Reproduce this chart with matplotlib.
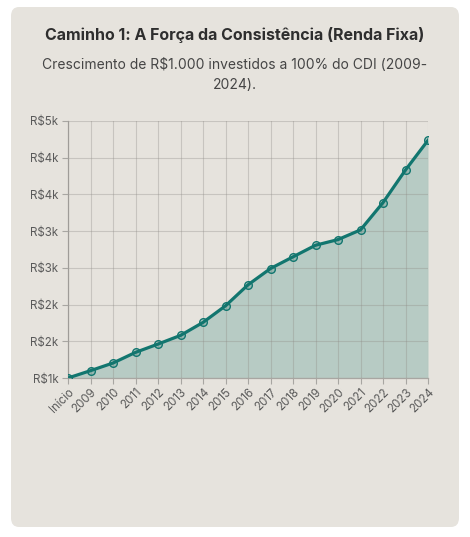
import matplotlib
matplotlib.use("Agg")
import matplotlib.pyplot as plt
from matplotlib.patches import FancyBboxPatch
from matplotlib.ticker import FuncFormatter, MultipleLocator

plt.rcParams['font.family'] = ['Inter', 'DejaVu Sans']

categories = ["Início", "2009", "2010", "2011", "2012", "2013", "2014", "2015", "2016",
              "2017", "2018", "2019", "2020", "2021", "2022", "2023", "2024"]
values = [1000, 1100, 1204, 1349, 1462, 1580, 1757, 1983, 2269,
          2491, 2650, 2808, 2885, 3017, 3389, 3833, 4237]
title = "Caminho 1: A Força da Consistência (Renda Fixa)"
subtitle = "Crescimento de R$1.000 investidos a 100% do CDI (2009-\n2024)."

W, H = 470, 537
fig = plt.figure(figsize=(W / 100, H / 100), dpi=100)
fig.patch.set_facecolor("white")

card = FancyBboxPatch((11 / W, 1 - 527 / H), 448 / W, 520 / H,
                      boxstyle="round,pad=0,rounding_size=0.017",
                      transform=fig.transFigure, facecolor="#e6e3dd",
                      edgecolor="none", zorder=-10)
fig.patches.append(card)

fig.text(0.5, 1 - 35 / H, title, ha="center", va="center", fontsize=11.5,
         fontweight="bold", color="#2e2e2e")
fig.text(0.5, 1 - 75 / H, subtitle, ha="center", va="center", fontsize=10,
         color="#454545", linespacing=1.55)

ax = fig.add_axes([68 / W, 1 - 378 / H, 360 / W, 257 / H], zorder=5)
ax.set_facecolor("none")
x = list(range(len(categories)))
teal = "#12766f"
ax.fill_between(x, 1000, values, color=teal, alpha=0.22, linewidth=0, zorder=1)
ax.grid(True, color="#8f8c87", alpha=0.35, linewidth=0.8, zorder=2)
ax.plot(x, values, color=teal, linewidth=2.3, zorder=3)
ax.plot(x, values, linestyle="none", marker="o", markersize=5.5,
        markerfacecolor=(0.07, 0.46, 0.43, 0.2), markeredgecolor=teal,
        markeredgewidth=1.0, zorder=4)

ax.set_xlim(0, len(categories) - 1)
ax.set_ylim(1000, 4500)
ax.yaxis.set_major_locator(MultipleLocator(500))
ax.yaxis.set_major_formatter(FuncFormatter(lambda v, p: "R$%dk" % round(v / 1000 + 1e-9)))
ax.set_xticks(x)
ax.set_xticklabels(categories, rotation=45, ha="right", rotation_mode="anchor")
ax.set_axisbelow(False)
for s in ["top", "right"]:
    ax.spines[s].set_visible(False)
for s in ["left", "bottom"]:
    ax.spines[s].set_color("#a8a6a2")
    ax.spines[s].set_linewidth(0.9)
    ax.spines[s].set_zorder(2.5)
ax.tick_params(axis="both", colors="#a8a6a2", labelcolor="#5a5a5a", labelsize=8.3,
               length=4, width=0.8)
ax.tick_params(axis="y", pad=3)
ax.tick_params(axis="x", pad=2)

fig.savefig("out.png", dpi=100, facecolor="white")
